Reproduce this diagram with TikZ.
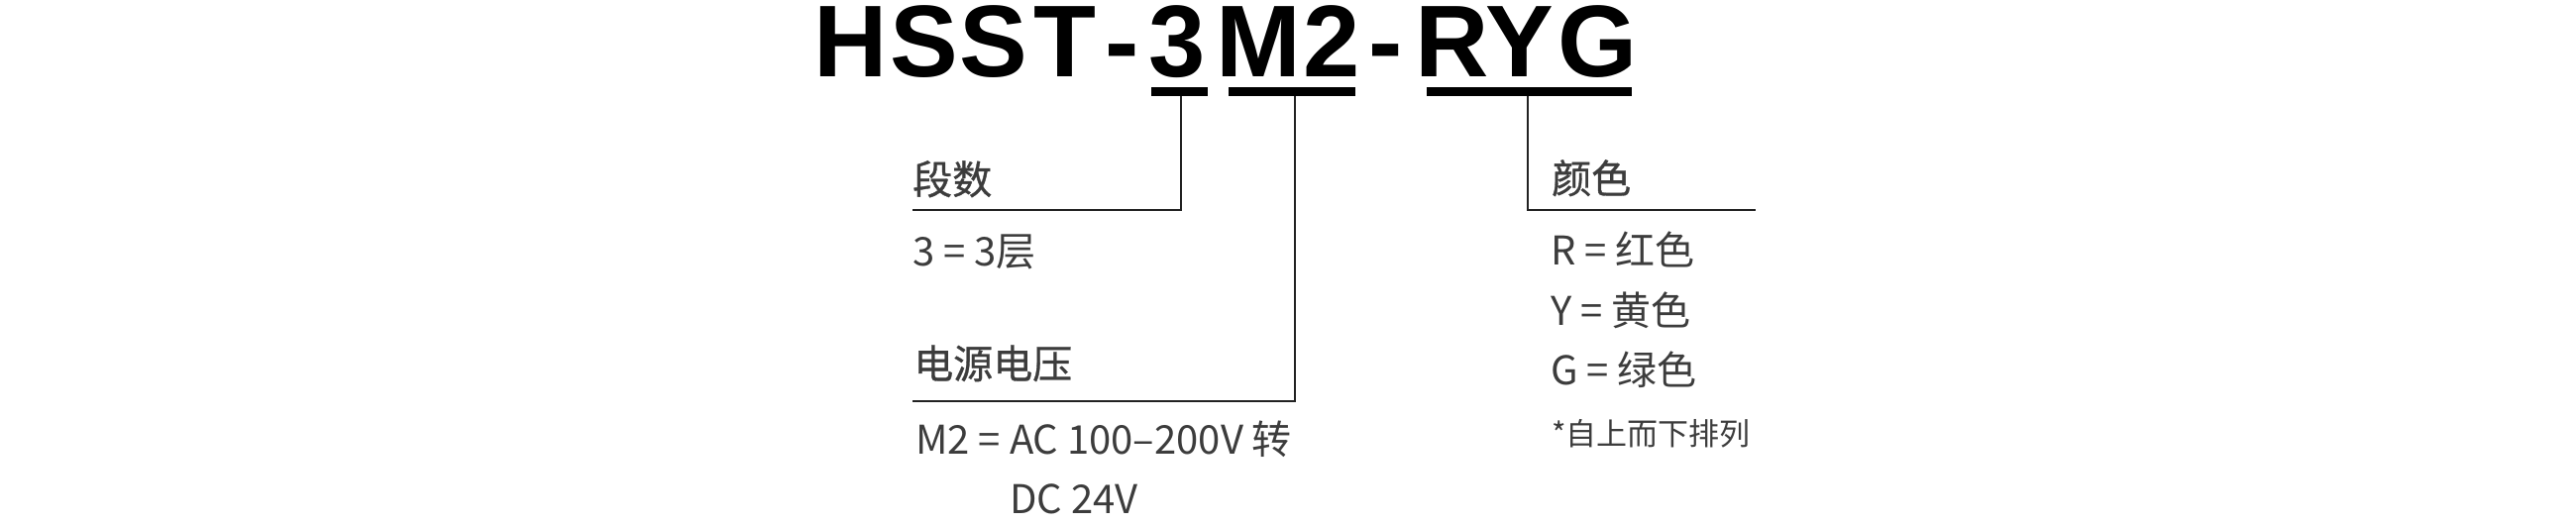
\documentclass[tikz,border=0pt]{standalone}
\usepackage{fontspec}
\setmainfont{Noto Sans CJK SC}
\newfontfamily\titlefont{Liberation Sans}
\newfontfamily\headfont[FakeBold=0.8]{Noto Sans CJK SC}
\definecolor{textgray}{HTML}{3C3C3C}
\definecolor{linegray}{HTML}{222222}
\begin{document}
\begin{tikzpicture}[x=1pt,y=-1pt,
  titlech/.style={inner sep=0,anchor=base,font=\titlefont\bfseries\fontsize{103}{103}\selectfont},
  headtxt/.style={inner sep=0,anchor=base west,text=textgray,font=\headfont\fontsize{40}{48}\selectfont},
  valtxt/.style={inner sep=0,anchor=base west,text=textgray,font=\fontsize{40}{48}\selectfont},
  notetxt/.style={inner sep=0,anchor=base west,text=textgray,font=\fontsize{31}{36}\selectfont},
  bar/.style={line width=9pt,black},
  leader/.style={line width=2pt,linegray}]
\useasboundingbox (0,0) rectangle (2600,530);
% title
\foreach \c/\x [count=\i] in {H/859,S/933,S/1003,T/1075,-/1133,3/1188,M/1270,2/1344,-/1399,R/1466,Y/1534,G/1612.5}
  \node[titlech] (t\i) at (\x,77) {\c};
% bars
\coordinate (b1l) at (1162,92.5); \coordinate (b1r) at (1219,92.5);
\coordinate (b2l) at (1240,92.5); \coordinate (b2r) at (1368,92.5);
\coordinate (b3l) at (1440,92.5); \coordinate (b3r) at (1647,92.5);
\draw[bar] (b1l) -- (b1r);
\draw[bar] (b2l) -- (b2r);
\draw[bar] (b3l) -- (b3r);
% leaders
\coordinate (l1s) at (1192,97); \coordinate (l1e) at (921,212);
\coordinate (l2s) at (1307,97); \coordinate (l2e) at (921,405);
\coordinate (l3s) at (1542,97); \coordinate (l3e) at (1772,212);
\draw[leader] (l1s) |- (l1e);
\draw[leader] (l2s) |- (l2e);
\draw[leader] (l3s) |- (l3e);
% left texts
\node[headtxt] (h1) at (921,196) {段数};
\node[valtxt] (v1) at (921,268) {3 = 3层};
\node[headtxt] (h2) at (922,382) {电源电压};
\node[valtxt] (v2) at (924,458) {M2 = AC 100–200V 转};
\node[valtxt] (v3) at (1019,518) {DC 24V};
% right texts
\node[headtxt] (h3) at (1566,195) {颜色};
\node[valtxt] (r1) at (1565,267) {R = 红色};
\node[valtxt] (r2) at (1565,328) {Y = 黄色};
\node[valtxt] (r3) at (1565,388) {G = 绿色};
\node[notetxt] (n1) at (1566,449) {*自上而下排列};
\end{tikzpicture}
\end{document}
